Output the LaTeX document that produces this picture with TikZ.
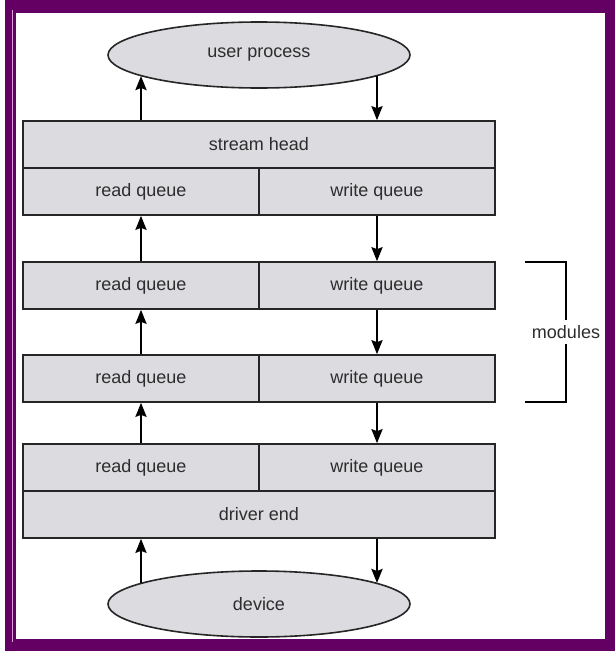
\documentclass[tikz,border=0pt]{standalone}
\usepackage{fontspec}
\setmainfont{Liberation Sans}
\usetikzlibrary{shapes.geometric,arrows.meta}
\definecolor{framepurple}{RGB}{100,0,100}
\definecolor{frameline}{RGB}{215,160,215}
\definecolor{boxgray}{RGB}{220,219,223}
\definecolor{labelgray}{RGB}{45,45,45}
\begin{document}
\begin{tikzpicture}[x=1pt,y=-1pt,
  label/.style={font=\fontsize{18}{21}\selectfont, text=labelgray},
  queue/.style={label, draw=black!85, line width=1.6pt, fill=boxgray,
    inner sep=0pt, minimum height=47pt},
  half/.style={queue, minimum width=236pt},
  full/.style={queue, minimum width=472pt},
  endpoint/.style={label, ellipse, draw=black!85, line width=1.6pt,
    fill=boxgray, inner sep=0pt, minimum width=302pt, minimum height=66pt},
  flow/.style={line width=2.4pt, -{Stealth[length=14pt,width=11pt,inset=2pt]}},
  bracket/.style={line width=1.3pt}]
\useasboundingbox (0,0) rectangle (615,651);

% double purple frame
\fill[framepurple] (5,0) rectangle (615,651);
\fill[white] (16,13) rectangle (605,639);
\draw[frameline, line width=0.8pt] (12.5,10) -- (12.5,642);

% end points
\node[endpoint] (proc) at (259,55) {user process};
\node[endpoint] (dev) at (259,604) {device};

% stream head
\node[full] (head) at (259,144.5) {stream head};
\node[half] (r0) at (141,191.5) {read queue};
\node[half] (w0) at (377,191.5) {write queue};

% modules
\node[half] (r1) at (141,285.5) {read queue};
\node[half] (w1) at (377,285.5) {write queue};
\node[half] (r2) at (141,378.5) {read queue};
\node[half] (w2) at (377,378.5) {write queue};

% driver end
\node[half] (r3) at (141,467.5) {read queue};
\node[half] (w3) at (377,467.5) {write queue};
\node[full] (drv) at (259,514.5) {driver end};

% read side flows upward
\draw[flow] (head.north -| r0.north) -- (r0.north |- proc.190);
\draw[flow] (r1.north) -- (r0.south);
\draw[flow] (r2.north) -- (r1.south);
\draw[flow] (r3.north) -- (r2.south);
\draw[flow] (r3.north |- dev.170) -- (drv.south -| r3.south);

% write side flows downward
\draw[flow] (w0.north |- proc.-10) -- (head.north -| w0.north);
\draw[flow] (w0.south) -- (w1.north);
\draw[flow] (w1.south) -- (w2.north);
\draw[flow] (w2.south) -- (w3.north);
\draw[flow] (drv.south -| w3.south) -- (w3.south |- dev.10);

% modules bracket
\node[label, inner sep=5pt] (mods) at (566,332) {modules};
\coordinate (bt) at (525,262);
\coordinate (bb) at (525,402);
\draw[bracket] (bt) -- (bt -| mods.north) -- (mods.north);
\draw[bracket] (mods.south) -- (bb -| mods.south) -- (bb);
\end{tikzpicture}
\end{document}
